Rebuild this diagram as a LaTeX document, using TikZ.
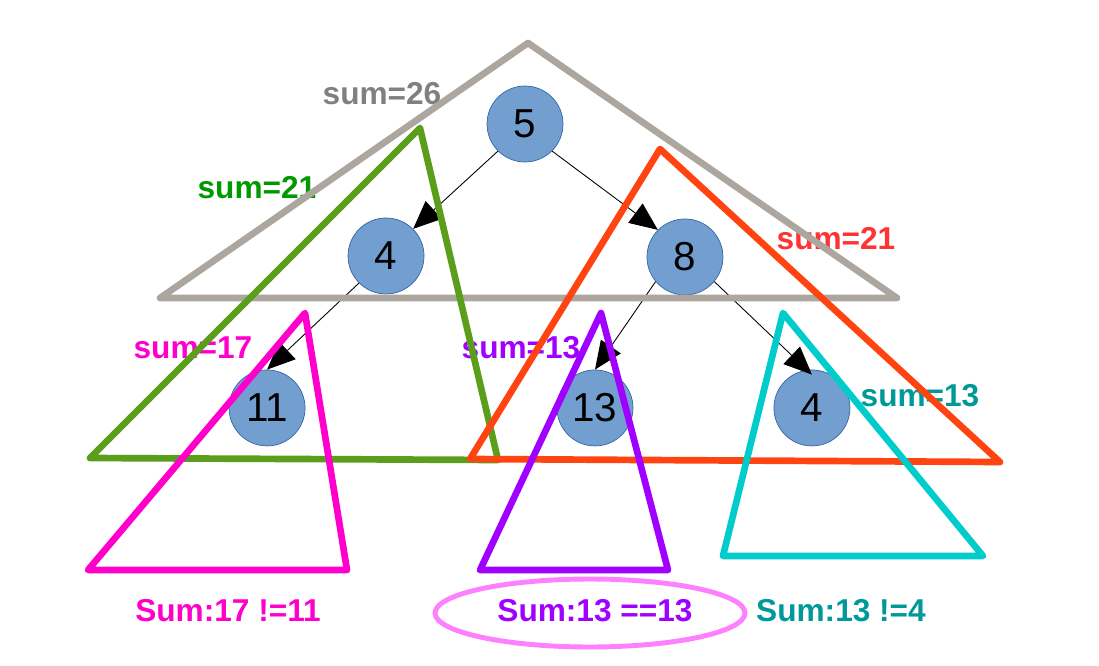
\documentclass[tikz,border=0pt]{standalone}
\usepackage{fontspec}
\setmainfont{Liberation Sans}
\usetikzlibrary{arrows.meta, positioning}

\definecolor{nodeblue}{HTML}{729FCF}
\definecolor{nodeline}{HTML}{3465A4}
\definecolor{rootgray}{HTML}{ADA69F}
\definecolor{leftgreen}{HTML}{5A9E1C}
\definecolor{rightred}{HTML}{FF4411}
\definecolor{leafpink}{HTML}{FF00CC}
\definecolor{leafpurple}{HTML}{A000FF}
\definecolor{leafcyan}{HTML}{00CCCC}
\definecolor{labgray}{HTML}{808080}
\definecolor{labgreen}{HTML}{009900}
\definecolor{labred}{HTML}{FF3333}
\definecolor{labteal}{HTML}{009999}
\definecolor{ringpink}{HTML}{FF80FF}

\begin{document}
\begin{tikzpicture}[
    x=0.02cm, y=-0.02cm,
    node distance=2.6cm,
    on grid,
    treenode/.style={circle, inner sep=0pt, fill=nodeblue, draw=nodeline, minimum size=1.52cm, font=\fontsize{23}{25}\selectfont},
    subtree/.style={line width=3.8pt, line join=round},
    sumlabel/.style={inner sep=0pt, font=\bfseries\fontsize{18}{20}\selectfont},
    every edge/.append style={draw, line width=0.5pt, -{Triangle[length=0.56cm, width=0.48cm]}}
]
   \useasboundingbox (0,0) rectangle (1099,666);

   % Tree nodes
   \node[treenode] (n5) at (525,124) {5};
   \node[treenode] (n4) [below left=2.64cm and 2.78cm of n5] {4};
   \node[treenode] (n8) [below right=2.66cm and 3.2cm of n5] {8};
   \node[treenode] (n11) [below left=3.04cm and 2.38cm of n4] {11};
   \node[treenode] (n13) [below left=3.02cm and 1.8cm of n8] {13};
   \node[treenode] (n4b) [below right=3.02cm and 2.54cm of n8] {4};

   % Edges
   \path
   (n5.south west) edge (n4.north east)
   (n5.south east) edge (n8.north west)
   (n4.south west) edge (n11.north)
   (n8.220) edge (n13.north)
   (n8.320) edge ([yshift=-0.1cm]n4b.north);

   % Sum labels
   \node[sumlabel, labgray] (s26) at (382,94) {sum=26};
   \node[sumlabel, labgreen] (s21l) at (257,188) {sum=21};
   \node[sumlabel, labred] (s21r) at (836,239) {sum=21};
   \node[sumlabel, leafpink] (s17) at (193,348) {sum=17};
   \node[sumlabel, leafpurple] (s13m) at (521,348) {sum=13};
   \node[sumlabel, labteal] (s13r) at (920,396) {sum=13};

   % Subtree triangles
   \draw[subtree, rootgray] (528,43) -- (160,298) -- (897,298) -- cycle;
   \draw[subtree, leftgreen] (420,128) -- (90,458) -- (498,460) -- cycle;
   \draw[subtree, rightred] (660,149) -- (470,459) -- (1000,462) -- cycle;
   \draw[subtree, leafpink] (305,313) -- (88,570) -- (347,570) -- cycle;
   \draw[subtree, leafpurple] (601,313) -- (480,570) -- (668,570) -- cycle;
   \draw[subtree, leafcyan] (783,313) -- (723,556) -- (983,556) -- cycle;

   % Checks
   \draw[ringpink, line width=2.8pt] (590,613) ellipse [x radius=3.1cm, y radius=0.68cm];
   \node[sumlabel, leafpink] (c11) at (228,611) {Sum:17 !=11};
   \node[sumlabel, leafpurple] (c13) at (595,611) {Sum:13 ==13};
   \node[sumlabel, labteal] (c4) at (841,611) {Sum:13 !=4};
\end{tikzpicture}
\end{document}
